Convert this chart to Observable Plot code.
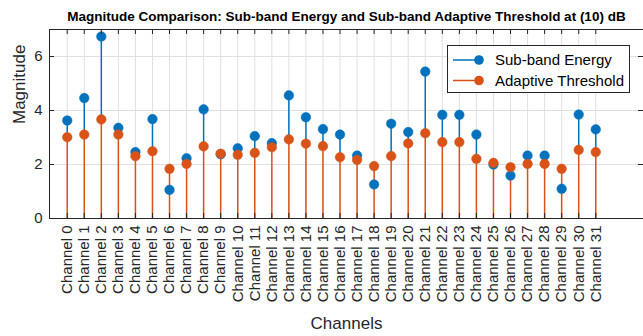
<!DOCTYPE html>
<html>
<head>
<meta charset="utf-8">
<script src="https://cdn.jsdelivr.net/npm/d3@7"></script>
<script src="https://cdn.jsdelivr.net/npm/@observablehq/plot@0.6"></script>
<style>
  html, body { margin: 0; padding: 0; background: #fff; overflow: hidden; }
  #wrap { position: relative; width: 643px; height: 336px; }
  #legend { position: absolute; left: 447px; top: 45px; }
  text { font-family: "Liberation Sans", Arial, Helvetica, sans-serif; }
</style>
</head>
<body>
<div id="wrap"></div>
<script>
const channelLabels = ["Channel 0","Channel 1","Channel 2","Channel 3","Channel 4","Channel 5","Channel 6","Channel 7","Channel 8","Channel 9","Channel 10","Channel 11","Channel 12","Channel 13","Channel 14","Channel 15","Channel 16","Channel 17","Channel 18","Channel 19","Channel 20","Channel 21","Channel 22","Channel 23","Channel 24","Channel 25","Channel 26","Channel 27","Channel 28","Channel 29","Channel 30","Channel 31"];
const channelIndex = [0,1,2,3,4,5,6,7,8,9,10,11,12,13,14,15,16,17,18,19,20,21,22,23,24,25,26,27,28,29,30,31];
const subbandEnergy = [3.63,4.46,6.74,3.36,2.46,3.68,1.06,2.23,4.04,2.38,2.60,3.05,2.79,4.56,3.75,3.31,3.11,2.33,1.26,3.51,3.20,5.44,3.84,3.84,3.11,2.00,1.59,2.33,2.33,1.10,3.85,3.30];
const adaptiveThreshold = [3.01,3.11,3.67,3.11,2.31,2.49,1.84,2.02,2.67,2.40,2.36,2.43,2.64,2.93,2.77,2.68,2.27,2.17,1.94,2.31,2.78,3.16,2.83,2.83,2.21,2.06,1.90,2.02,2.02,1.84,2.54,2.46];
const yTicks = [0,2,4,6];
const yDomain = [0,7];
const xDomain = [-1.04, 33.8];
const titleText = "Magnitude Comparison: Sub-band Energy and Sub-band Adaptive Threshold at (10) dB";
const seriesNames = ["Sub-band Energy","Adaptive Threshold"];
const colors = ["#0072BD","#D95319"];

const rows = channelIndex.map((c,i) => ({ch: c, label: channelLabels[i], e: subbandEnergy[i], t: adaptiveThreshold[i]}));

const W = 643, H = 336, mL = 49, mR = 0, mT = 29, mB = 118;
const fw = W - mL - mR, fh = H - mT - mB;
const axisColor = "#262626";
const gridColor = "#e0e0e0";
const font = "Liberation Sans, Arial, Helvetica, sans-serif";

const chart = Plot.plot({
  width: W, height: H,
  marginLeft: mL, marginRight: mR, marginTop: mT, marginBottom: mB,
  style: {fontFamily: font, color: axisColor, background: "white"},
  x: {domain: xDomain, axis: null},
  y: {domain: yDomain, axis: null},
  marks: [
    // grid
    Plot.ruleX(channelIndex, {x: d => d, stroke: gridColor, strokeWidth: 1}),
    Plot.ruleY(yTicks, {y: d => d, stroke: gridColor, strokeWidth: 1}),
    // stems (blue part below the orange stem is hidden by it in the original)
    Plot.ruleX(rows, {x: "ch", y1: d => Math.min(d.e, d.t), y2: "e", stroke: colors[0], strokeWidth: 1.5}),
    Plot.ruleX(rows, {x: "ch", y1: 0, y2: "t", stroke: colors[1], strokeWidth: 1.5}),
    // markers
    Plot.dot(rows, {x: "ch", y: "e", r: 4.8, fill: colors[0], stroke: colors[0], strokeWidth: 0.5}),
    Plot.dot(rows, {x: "ch", y: "t", r: 4.8, fill: colors[1], stroke: colors[1], strokeWidth: 0.5}),
    // box lines (left, top, bottom)
    Plot.ruleX([xDomain[0]], {x: d => d, stroke: axisColor, strokeWidth: 1}),
    Plot.ruleY([yDomain[0]], {y: d => d, stroke: axisColor, strokeWidth: 1}),
    Plot.ruleY([yDomain[1]], {y: d => d, stroke: axisColor, strokeWidth: 1}),
    // inward ticks
    Plot.ruleX(channelIndex, {x: d => d, stroke: axisColor, insetTop: fh - 5}),
    Plot.ruleX(channelIndex, {x: d => d, stroke: axisColor, insetBottom: fh - 5}),
    Plot.ruleY(yTicks, {y: d => d, stroke: axisColor, insetRight: fw - 5}),
    Plot.ruleY(yTicks, {y: d => d, stroke: axisColor, insetLeft: fw - 5}),
    // axes labels
    Plot.axisX({ticks: channelIndex, tickFormat: i => channelLabels[i], tickRotate: -90, tickSize: 0, tickPadding: 7, fontSize: 15, label: null}),
    Plot.axisY({ticks: yTicks, tickFormat: d => String(d), tickSize: 0, tickPadding: 7, fontSize: 15, label: null}),
    Plot.text([ "Channels" ], {frameAnchor: "bottom", dy: 105, text: d => d, fontSize: 17, fill: axisColor, lineAnchor: "middle"}),
    Plot.text([ "Magnitude" ], {frameAnchor: "left", dx: -30, rotate: -90, text: d => d, fontSize: 17, fill: axisColor, lineAnchor: "middle"}),
    Plot.text([ titleText ], {frameAnchor: "top", dy: -13, text: d => d, fontSize: 13.5, fontWeight: "bold", fill: "#000", lineAnchor: "middle"})
  ]
});
document.getElementById("wrap").appendChild(chart);

// legend (HTML overlay)
const lg = d3.select("#wrap").append("svg").attr("id","legend").attr("width", 183).attr("height", 48);
lg.append("rect").attr("x",0.5).attr("y",0.5).attr("width",182).attr("height",47).attr("fill","white").attr("stroke",axisColor).attr("stroke-width",1);
seriesNames.forEach((name, i) => {
  const cy = 15 + i * 20.5;
  lg.append("line").attr("x1",6).attr("x2",34).attr("y1",cy).attr("y2",cy).attr("stroke",colors[i]).attr("stroke-width",1.5);
  lg.append("circle").attr("cx",32).attr("cy",cy).attr("r",4.8).attr("fill",colors[i]);
  lg.append("text").attr("x",48).attr("y",cy).attr("dy","0.35em").attr("font-size",15).attr("fill","#000").attr("font-family",font).text(name);
});
</script>
</body>
</html>
